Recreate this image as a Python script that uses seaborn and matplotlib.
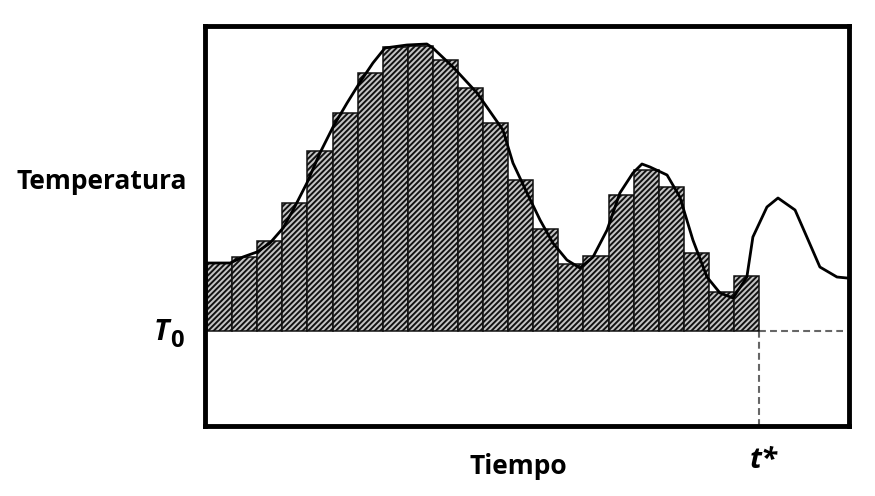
import matplotlib
matplotlib.use("Agg")
import matplotlib.pyplot as plt
import numpy as np
import seaborn as sns

# reference temperature and the sampled (binned) temperatures
T0 = 20.0
bar_temps = [26.8, 27.4, 29.0, 32.8, 38.0, 41.8, 45.8, 48.4, 48.5, 47.1, 44.3,
             40.8, 35.1, 30.2, 26.7, 27.5, 33.6, 36.1, 34.4, 27.8, 23.9, 25.5]
bar_times = np.arange(len(bar_temps)) + 0.5  # centre of each time step

# continuous temperature record
curve_times = [0.0, 0.92, 1.43, 1.99, 2.51, 3.03, 3.43, 3.98, 4.50, 5.02, 5.58,
               6.10, 6.61, 7.09, 7.97, 8.76, 9.00, 9.80, 10.76, 11.79, 12.19,
               12.75, 13.27, 13.78, 14.34, 14.86, 15.38, 15.94, 16.45, 16.97,
               17.33, 17.65, 18.33, 18.84, 19.36, 19.92, 20.44, 20.96, 21.51,
               21.75, 22.31, 22.75, 23.43, 23.90, 24.42, 25.10, 25.50]
curve_temps = [26.8, 26.8, 27.4, 27.9, 28.8, 30.3, 32.1, 34.8, 37.8, 40.4, 42.8,
               44.9, 46.8, 48.3, 48.6, 48.7, 48.3, 46.4, 43.8, 40.1, 36.8,
               33.8, 31.1, 28.8, 27.1, 26.3, 27.4, 30.1, 33.8, 35.8,
               36.7, 36.4, 35.6, 33.4, 29.1, 25.4, 23.8, 23.3, 25.4,
               29.4, 32.4, 33.3, 32.1, 29.4, 26.4, 25.4, 25.3]

t_star = 22.0
t_end = 25.35

sns.set_style("white")
plt.rcParams["font.family"] = ["Open Sans", "DejaVu Sans"]
plt.rcParams["text.color"] = "black"
plt.rcParams["hatch.linewidth"] = 1.4

fig = plt.figure(figsize=(8.75, 4.96), dpi=100)
ax = fig.add_axes([0.2343, 0.1421, 0.736, 0.8055])

sns.barplot(x=bar_times, y=np.array(bar_temps) - T0, native_scale=True,
            width=1.0, color="#c4c4c4", saturation=1, edgecolor="#111111",
            linewidth=1.1, hatch="//////", errorbar=None, ax=ax)
for p in ax.patches:
    p.set_zorder(2)
sns.lineplot(x=curve_times, y=np.array(curve_temps) - T0, color="black",
             linewidth=2.0, ax=ax)
ax.lines[-1].set_zorder(5)

ax.set_xlim(-0.08, 25.58)
ax.set_ylim(-9.45, 30.5)

dash = (0, (3.3, 2))
ax.plot([t_star, t_end], [0, 0], color="#666666", lw=1.5, linestyle=dash, zorder=1)
ax.plot([t_star, t_star], [ax.get_ylim()[0], 0], color="#666666", lw=1.5,
        linestyle=dash, zorder=1)

ax.set_xticks([])
ax.set_yticks([])
ax.set_xlabel("")
ax.set_ylabel("")
for s in ax.spines.values():
    s.set_visible(True)
    s.set_linewidth(3.5)
    s.set_color("black")
    s.set_zorder(6)

fig.text(0.0183, 0.619, "Temperatura", fontsize=19, fontweight="bold", va="baseline")
fig.text(0.537, 0.0444, "Tiempo", fontsize=19, fontweight="bold", va="baseline")
fig.text(0.857, 0.0565, "t*", fontsize=21, fontweight="bold", fontstyle="italic",
         va="baseline")
fig.text(0.175, 0.3145, "T", fontsize=21, fontweight="bold", fontstyle="italic",
         va="baseline")
fig.text(0.1945, 0.300, "0", fontsize=17, fontweight="bold", va="baseline")

fig.savefig("out.png", dpi=100)
